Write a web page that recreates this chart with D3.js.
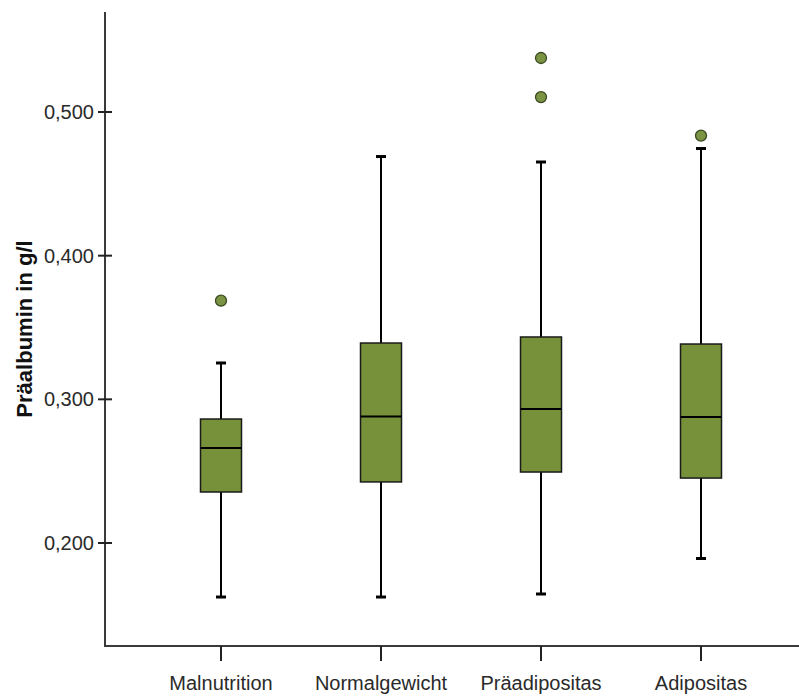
<!DOCTYPE html>
<html>
<head>
<meta charset="utf-8">
<script src="https://cdn.jsdelivr.net/npm/d3@7"></script>
<style>
  html, body { margin: 0; padding: 0; background: #ffffff; }
  svg { display: block; }
  text { font-family: "Liberation Sans", Arial, sans-serif; fill: #2a2a2a; }
</style>
</head>
<body>
<svg id="chart"></svg>
<script>
  // groups along the x axis
  let categories = ['Malnutrition', 'Normalgewicht', 'Präadipositas', 'Adipositas'];
  // five-number summaries (g/l)
  let whiskerLow = [0.1624, 0.1624, 0.1645, 0.1892];
  let q1 = [0.2355, 0.2425, 0.2494, 0.2452];
  let median = [0.2661, 0.2880, 0.2933, 0.2877];
  let q3 = [0.2863, 0.3392, 0.3434, 0.3385];
  let whiskerHigh = [0.3253, 0.4690, 0.4652, 0.4746];
  // outliers: [category index, value]
  let outliers = [[0, 0.3687], [2, 0.5376], [2, 0.5104], [3, 0.4836]];
  let yTicks = [0.2, 0.3, 0.4, 0.5];
  let yTitle = 'Präalbumin in g/l';

  let width = 799, height = 696;
  let boxFill = '#77913a', boxW = 41, capW = 10;

  let svg = d3.select('#chart').attr('width', width).attr('height', height);

  let y = d3.scaleLinear().domain([0.2, 0.5]).range([543, 112]);
  let yTop = 12, yBottom = 646, xLeft = 105;

  let x = d3.scalePoint().domain(categories).range([221, 701]);

  let fmt = d => d3.format('.3f')(d).replace('.', ',');

  // y axis
  let yAxis = svg.append('g').attr('transform', 'translate(' + xLeft + ',0)');
  yAxis.append('line')
    .attr('x1', 0).attr('x2', 0).attr('y1', yTop).attr('y2', yBottom)
    .attr('stroke', '#3a3a3a').attr('stroke-width', 2);
  let yt = yAxis.selectAll('.ytick').data(yTicks).enter().append('g')
    .attr('class', 'ytick')
    .attr('transform', d => 'translate(0,' + y(d) + ')');
  yt.append('line').attr('x1', -7).attr('x2', 7)
    .attr('stroke', '#222').attr('stroke-width', 2);
  yt.append('text')
    .attr('x', -11).attr('dy', '0.35em')
    .attr('text-anchor', 'end')
    .style('font-size', '20px')
    .text(fmt);

  svg.append('text')
    .attr('transform', 'translate(32,' + 329 + ') rotate(-90)')
    .attr('text-anchor', 'middle')
    .style('font-size', '22px')
    .style('font-weight', 'bold')
    .style('fill', '#111')
    .text(yTitle);

  // x axis
  svg.append('line')
    .attr('x1', xLeft - 1).attr('x2', width).attr('y1', yBottom).attr('y2', yBottom)
    .attr('stroke', '#3a3a3a').attr('stroke-width', 2);
  let xt = svg.selectAll('.xtick').data(categories).enter().append('g')
    .attr('class', 'xtick')
    .attr('transform', d => 'translate(' + x(d) + ',' + yBottom + ')');
  xt.append('line').attr('y1', 0).attr('y2', 15)
    .attr('stroke', '#222').attr('stroke-width', 2);
  xt.append('text')
    .attr('y', 44)
    .attr('text-anchor', 'middle')
    .style('font-size', '20px')
    .text(d => d);

  // boxes
  let boxes = svg.selectAll('.box').data(categories).enter().append('g')
    .attr('class', 'box')
    .attr('transform', d => 'translate(' + x(d) + ',0)');

  boxes.append('line')
    .attr('y1', (d, i) => y(whiskerLow[i])).attr('y2', (d, i) => y(whiskerHigh[i]))
    .attr('stroke', '#000').attr('stroke-width', 2);
  boxes.append('line')
    .attr('x1', -capW / 2).attr('x2', capW / 2)
    .attr('y1', (d, i) => y(whiskerHigh[i])).attr('y2', (d, i) => y(whiskerHigh[i]))
    .attr('stroke', '#000').attr('stroke-width', 3);
  boxes.append('line')
    .attr('x1', -capW / 2).attr('x2', capW / 2)
    .attr('y1', (d, i) => y(whiskerLow[i])).attr('y2', (d, i) => y(whiskerLow[i]))
    .attr('stroke', '#000').attr('stroke-width', 3);
  boxes.append('rect')
    .attr('x', -boxW / 2).attr('width', boxW)
    .attr('y', (d, i) => y(q3[i]))
    .attr('height', (d, i) => y(q1[i]) - y(q3[i]))
    .attr('fill', boxFill)
    .attr('stroke', '#1a1a1a').attr('stroke-width', 1.5);
  boxes.append('line')
    .attr('x1', -boxW / 2).attr('x2', boxW / 2)
    .attr('y1', (d, i) => y(median[i])).attr('y2', (d, i) => y(median[i]))
    .attr('stroke', '#000').attr('stroke-width', 2);

  // outliers
  svg.selectAll('.outlier').data(outliers).enter().append('circle')
    .attr('class', 'outlier')
    .attr('cx', d => x(categories[d[0]]))
    .attr('cy', d => y(d[1]))
    .attr('r', 5.5)
    .attr('fill', '#7b9444')
    .attr('stroke', '#3b4a22').attr('stroke-width', 1.3);
</script>
</body>
</html>
